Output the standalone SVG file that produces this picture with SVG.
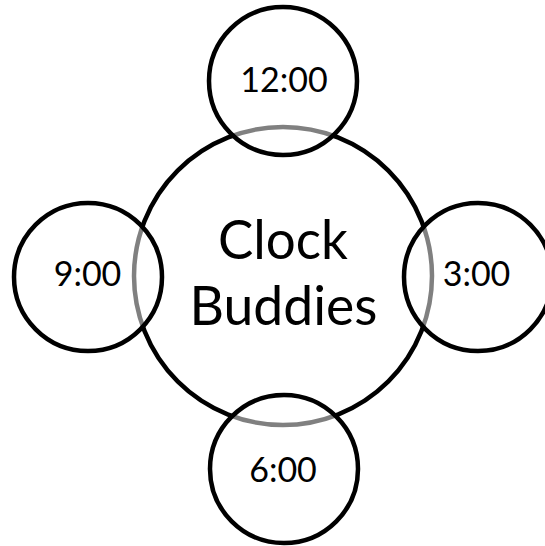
<svg xmlns="http://www.w3.org/2000/svg" width="545" height="546" viewBox="0 0 545 546">
<style>
.c{stroke:#000;stroke-width:4.5}
.big{fill:#fff}
.sm{fill:#fff;fill-opacity:0.5}
text{font-family:Lato,"Open Sans","Liberation Sans",sans-serif;fill:#000;text-anchor:middle}
.l{font-size:34px}
.t{font-size:54px}
</style>
<rect width="545" height="546" fill="#fff"/>
<g id="center">
<circle class="c big" cx="283" cy="276" r="149"/>
<text class="t" x="283" y="259" textLength="130" lengthAdjust="spacingAndGlyphs">Clock</text>
<text class="t" x="283.5" y="325" textLength="188" lengthAdjust="spacingAndGlyphs">Buddies</text>
</g>
<g id="connectors"></g>
<g id="n12">
<circle class="c sm" cx="283" cy="81" r="74"/>
<text class="l" x="284" y="92">12:00</text>
</g>
<g id="n3">
<circle class="c sm" cx="478" cy="277" r="74"/>
<text class="l" x="476.5" y="286">3:00</text>
</g>
<g id="n6">
<circle class="c sm" cx="284" cy="469" r="74"/>
<text class="l" x="283" y="482">6:00</text>
</g>
<g id="n9">
<circle class="c sm" cx="88" cy="277" r="74"/>
<text class="l" x="87.5" y="286">9:00</text>
</g>
</svg>
